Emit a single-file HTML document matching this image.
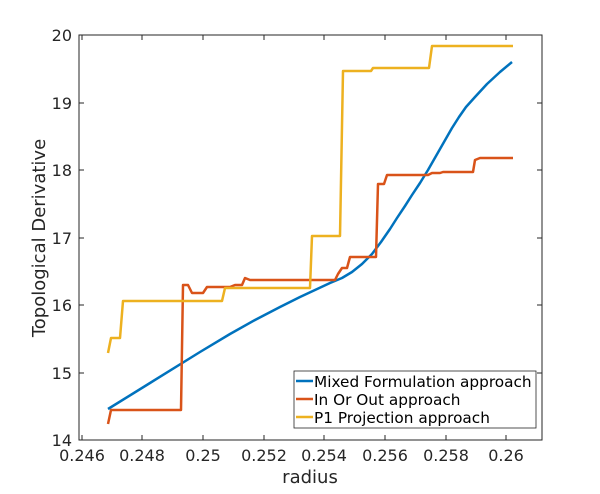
<!DOCTYPE html>
<html><head><style>body{margin:0;background:#fff}svg{display:block}</style></head><body>
<svg width="600" height="494" xmlns="http://www.w3.org/2000/svg" font-family="'DejaVu Sans',sans-serif">
<rect width="600" height="494" fill="#fff"/>
<rect x="79" y="35" width="463" height="405" fill="#fff" stroke="#262626" stroke-width="1"/>
<g stroke="#262626" stroke-width="1">
<line x1="82" y1="440" x2="82" y2="435"/><line x1="142" y1="440" x2="142" y2="435"/><line x1="203" y1="440" x2="203" y2="435"/><line x1="264" y1="440" x2="264" y2="435"/><line x1="324" y1="440" x2="324" y2="435"/><line x1="385" y1="440" x2="385" y2="435"/><line x1="446" y1="440" x2="446" y2="435"/><line x1="506" y1="440" x2="506" y2="435"/>
<line x1="82" y1="35" x2="82" y2="40"/><line x1="142" y1="35" x2="142" y2="40"/><line x1="203" y1="35" x2="203" y2="40"/><line x1="264" y1="35" x2="264" y2="40"/><line x1="324" y1="35" x2="324" y2="40"/><line x1="385" y1="35" x2="385" y2="40"/><line x1="446" y1="35" x2="446" y2="40"/><line x1="506" y1="35" x2="506" y2="40"/>
<line x1="79" y1="440" x2="84" y2="440"/><line x1="79" y1="373" x2="84" y2="373"/><line x1="79" y1="305" x2="84" y2="305"/><line x1="79" y1="238" x2="84" y2="238"/><line x1="79" y1="170" x2="84" y2="170"/><line x1="79" y1="103" x2="84" y2="103"/><line x1="79" y1="35" x2="84" y2="35"/>
<line x1="542" y1="440" x2="537" y2="440"/><line x1="542" y1="373" x2="537" y2="373"/><line x1="542" y1="305" x2="537" y2="305"/><line x1="542" y1="238" x2="537" y2="238"/><line x1="542" y1="170" x2="537" y2="170"/><line x1="542" y1="103" x2="537" y2="103"/><line x1="542" y1="35" x2="537" y2="35"/>
</g>
<g font-size="16" fill="#262626" text-anchor="middle">
<text x="82" y="461">0.246</text><text x="142" y="461">0.248</text><text x="203" y="461">0.25</text><text x="264" y="461">0.252</text><text x="324" y="461">0.254</text><text x="385" y="461">0.256</text><text x="446" y="461">0.258</text><text x="506" y="461">0.26</text>
</g>
<g font-size="16" fill="#262626" text-anchor="end">
<text x="72" y="446">14</text><text x="72" y="379">15</text><text x="72" y="311">16</text><text x="72" y="244">17</text><text x="72" y="176">18</text><text x="72" y="109">19</text><text x="72" y="41">20</text>
</g>
<text x="310" y="483" font-size="18" fill="#262626" text-anchor="middle">radius</text>
<text transform="translate(45,238) rotate(-90)" font-size="18" fill="#262626" text-anchor="middle">Topological Derivative</text>
<g fill="none" stroke-width="2.5" stroke-linejoin="round">
<path stroke="#0072BD" d="M108,409 L150,383 L200,352 L230,334 L255,320 L280,307 L300,297 L315,290 L330,283 L342,278 L352,272 L362,264 L372,254 L381,242 L390,229 L397,218 L405,206 L412,195 L420,183 L428,170 L436,156 L444,142 L452,128 L459,117 L466,107 L475,97 L487,84 L500,72 L512,62"/>
<path stroke="#D95319" d="M108,424 L111,410 L181,410 L183,285 L188,285 L192,293 L203,293 L207,287 L230,287 L235,285 L242,285 L245,278 L250,280 L335,280 L338,274 L342,268 L347,268 L350,257 L376,257 L378,184 L384,184 L387,175 L428,175 L432,173 L440,173 L443,172 L473,172 L475,160 L480,158 L513,158"/>
<path stroke="#EDB120" d="M108,353 L111,338 L120,338 L123,301 L222,301 L225,288 L310,288 L312,236 L340,236 L343,71 L371,71 L373,68 L429,68 L432,46 L513,46"/>
</g>
<rect x="294" y="371" width="242" height="57" fill="#fff" stroke="#262626" stroke-width="0.8"/>
<g stroke-width="2.5"><line x1="296" y1="381" x2="313" y2="381" stroke="#0072BD"/><line x1="296" y1="399" x2="313" y2="399" stroke="#D95319"/><line x1="296" y1="417" x2="313" y2="417" stroke="#EDB120"/></g>
<g font-size="15.3" fill="#000"><text x="314" y="387">Mixed Formulation approach</text><text x="314" y="405">In Or Out approach</text><text x="314" y="423">P1 Projection approach</text></g>
</svg>
</body></html>
